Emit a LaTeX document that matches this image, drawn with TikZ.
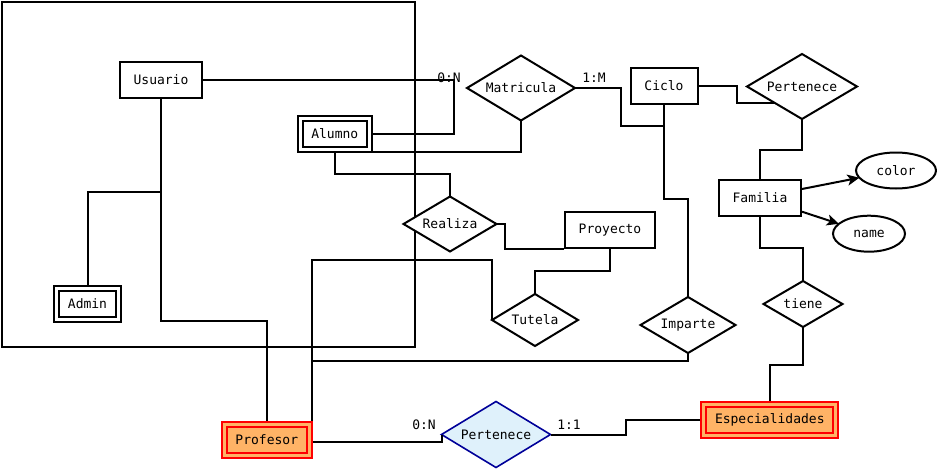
\documentclass[tikz,border=0pt]{standalone}
\usepackage{fontspec}
\newfontfamily\dmono{DejaVu Sans Mono}
\usetikzlibrary{shapes.geometric,arrows.meta}
\definecolor{orfill}{HTML}{FFB366}
\definecolor{redline}{HTML}{FF0000}
\definecolor{bluefill}{HTML}{DFF1FB}
\definecolor{blueline}{HTML}{000099}
\begin{document}
\begin{tikzpicture}[x=1pt,y=-1pt,
  every node/.style={font=\dmono\fontsize{13}{15}\selectfont, inner sep=0pt},
  ln/.style={line width=2pt, line join=miter},
  entbox/.style={draw, line width=2pt, fill=white},
  dblbox/.style={draw, line width=2pt, double=white, double distance=3pt, fill=white, outer sep=3.5pt},
  hotbox/.style={draw=redline, line width=2pt, double=orfill, double distance=3pt, fill=orfill, outer sep=3.5pt},
  rel/.style={draw, shape=diamond, line width=2pt, fill=white, outer sep=0pt},
  relblue/.style={draw=blueline, shape=diamond, line width=1.6pt, fill=bluefill, outer sep=0pt},
  attr/.style={draw, shape=ellipse, line width=2pt, fill=white, outer sep=0pt},
  card/.style={font=\dmono\fontsize{13}{15}\selectfont},
  arr/.style={line width=2pt, -{Stealth[length=12pt,width=11pt,inset=3pt]}}
]
\useasboundingbox (0,0) rectangle (937,469);

% group frame
\node[draw, line width=2pt, minimum width=413pt, minimum height=345pt, outer sep=0pt] (grupo) at (208.5,174.5) {};

% entities
\node[entbox, minimum width=82pt, minimum height=36pt] (usuario) at (161,80) {Usuario};
\node[dblbox, minimum width=69.3pt, minimum height=31.1pt] (alumno) at (334.8,134) {Alumno};
\node[dblbox, minimum width=62.6pt, minimum height=31.6pt] (admin) at (87.5,304) {Admin};
\node[entbox, minimum width=67pt, minimum height=36pt] (ciclo) at (664,85.5) {Ciclo};
\node[entbox, minimum width=82pt, minimum height=36pt] (familia) at (760,198) {Familia};
\node[entbox, minimum width=90pt, minimum height=36pt] (proyecto) at (610,230) {Proyecto};
\node[hotbox, minimum width=85.3pt, minimum height=31.6pt] (profesor) at (266.8,440) {Profesor};
\node[hotbox, minimum width=132pt, minimum height=31.6pt] (especialidades) at (769.8,420) {Especialidades};

% relationships
\node[rel, aspect=1.66, minimum width=108pt, minimum height=65pt] (matricula) at (521,88) {Matricula};
\node[rel, aspect=1.69, minimum width=110pt, minimum height=65pt] (pertenece1) at (802,86.5) {Pertenece};
\node[rel, aspect=1.69, minimum width=93pt, minimum height=55pt] (realiza) at (450,224) {Realiza};
\node[rel, aspect=1.65, minimum width=86pt, minimum height=52pt] (tutela) at (535,320) {Tutela};
\node[rel, aspect=1.7, minimum width=95pt, minimum height=56pt] (imparte) at (688,325) {Imparte};
\node[rel, aspect=1.72, minimum width=79pt, minimum height=46pt] (tiene) at (803,304) {tiene};
\node[relblue, aspect=1.65, minimum width=109pt, minimum height=66pt] (pertenece2) at (496,434.5) {Pertenece};

% attributes
\node[attr, minimum width=80pt, minimum height=36pt] (color) at (896,170.5) {color};
\node[attr, minimum width=72pt, minimum height=36pt] (name) at (869,233.7) {name};

% connectors
\coordinate (ua) at (161,192);
\coordinate (cj) at (664,126);
\draw[ln] (usuario.east) -- (454,80) |- (alumno.east);
\draw[ln] ([yshift=1.5pt]alumno.south east) -| (matricula.south);
\draw[ln] (alumno.south) |- (450,174) -- (realiza.north);
\draw[ln] (realiza.east) -- (505,224) |- (proyecto.south west);
\draw[ln] (proyecto.south) |- (535,271) -- (tutela.north);
\draw[ln] (usuario.south) |- (266.8,321) -- (profesor.north);
\draw[ln] (ua) -| (admin.north);
\draw[ln] ([xshift=-0.8pt]profesor.north east) |- (492,260) -- (tutela.west);
\draw[ln] ([xshift=-0.8pt]profesor.north east) |- (688,361) -- (imparte.south);
\draw[ln] ([yshift=-1.7pt]profesor.east) -- (441.5,441.7) -- (pertenece2.west);
\draw[ln] (matricula.east) -- (621,88) |- (cj);
\draw[ln] (ciclo.south) -- (664,199) -| (imparte.north);
\draw[ln] (ciclo.east) -- (737,85.5) |- (pertenece1.south west);
\draw[ln] (pertenece1.south) |- (760,150) -- (familia.north);
\draw[ln] (familia.south) |- (803,248) -- (tiene.north);
\draw[ln] (tiene.south) |- (769.8,365) -- (especialidades.north);
\draw[ln] (especialidades.west) -- (626,420) |- (pertenece2.east);
\draw[arr] ([yshift=9pt]familia.east) -- (color);
\draw[arr] ([yshift=-13.7pt]familia.east) -- (name);

% cardinalities
\node[card] (c1) at (449,78) {0:N};
\node[card] (c2) at (594,78) {1:M};
\node[card] (c3) at (424,424.5) {0:N};
\node[card] (c4) at (569,424.5) {1:1};
\end{tikzpicture}
\end{document}
